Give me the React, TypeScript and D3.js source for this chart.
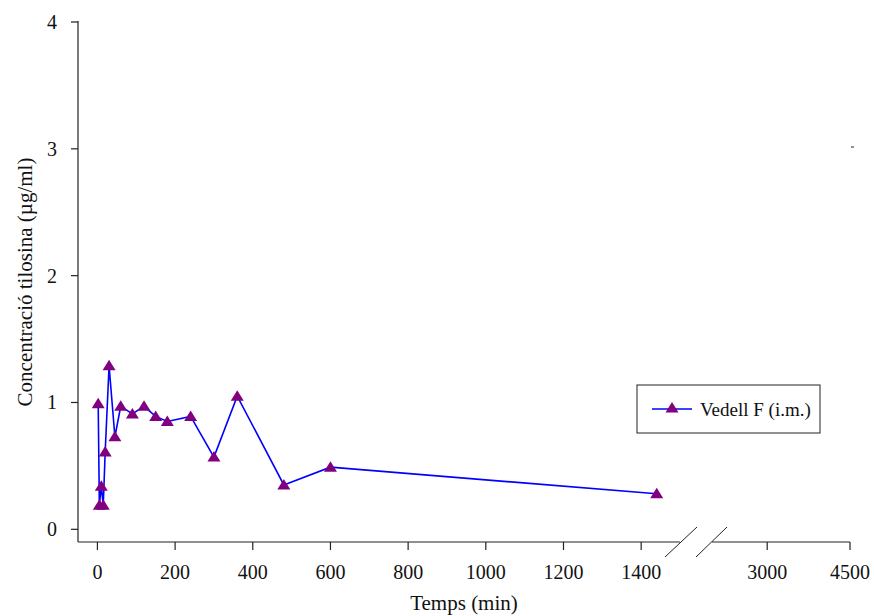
import React from "react";
import * as d3 from "d3";

const width = 874;
const height = 616;

// time (min) and tylosin concentration (µg/ml)
const times = [2, 5, 10, 15, 20, 30, 45, 60, 90, 120, 150, 180, 240, 300, 360, 480, 600, 1440];
const conc = [0.99, 0.19, 0.34, 0.19, 0.61, 1.29, 0.73, 0.97, 0.91, 0.97, 0.89, 0.85, 0.89, 0.57, 1.05, 0.35, 0.49, 0.28];

const xTicksLow = [0, 200, 400, 600, 800, 1000, 1200, 1400];
const xTicksHigh = [3000, 4500];
const yTicks = [0, 1, 2, 3, 4];
const seriesName = "Vedell F (i.m.)";

const font = "'Liberation Serif', 'Times New Roman', serif";

// broken x axis: two linear segments
const xLow = d3.scaleLinear().domain([-50, 1500]).range([78, 680]);
const xHigh = d3.scaleLinear().domain([2000, 4500]).range([712, 850]);
const y = d3.scaleLinear().domain([-0.1, 4]).range([542, 22]);

const xPos = (t: number) => (t <= 1500 ? xLow(t) : xHigh(t));

const tri = "M0,-6L6.5,4.5L-6.5,4.5Z";

export default function App() {
  const line = d3
    .line<number>()
    .x((d, i) => xPos(times[i]))
    .y((d) => y(d));

  const axisY = y.range()[0];
  const left = xLow.range()[0];

  return (
    <svg
      width={width}
      height={height}
      style={{ position: "absolute", left: 0, top: 0, background: "#fff" }}
      fontFamily={font}
    >
      {/* y axis */}
      <g stroke="#222" strokeWidth={1.2}>
        <line x1={left} x2={left} y1={y(4) - 1} y2={axisY} />
        {yTicks.map((t) => (
          <line key={t} x1={left - 7} x2={left} y1={y(t)} y2={y(t)} />
        ))}
      </g>
      {yTicks.map((t) => (
        <text key={t} x={57} y={y(t)} dy="0.35em" textAnchor="end" fontSize={20} fill="#111">
          {t}
        </text>
      ))}

      {/* x axis, with break */}
      <g stroke="#222" strokeWidth={1.2}>
        <line x1={left} x2={xLow.range()[1]} y1={axisY} y2={axisY} />
        <line x1={xHigh.range()[0]} x2={xHigh.range()[1]} y1={axisY} y2={axisY} />
        {xTicksLow.map((t) => (
          <line key={t} x1={xLow(t)} x2={xLow(t)} y1={axisY} y2={axisY + 8} />
        ))}
        {xTicksHigh.map((t) => (
          <line key={t} x1={xHigh(t)} x2={xHigh(t)} y1={axisY} y2={axisY + 8} />
        ))}
        <line x1={665} y1={557} x2={697} y2={527} strokeWidth={1} />
        <line x1={696} y1={557} x2={727} y2={527} strokeWidth={1} />
        <line x1={851} y1={147} x2={854} y2={147} strokeWidth={1} />
      </g>
      {xTicksLow.map((t) => (
        <text key={t} x={xLow(t)} y={579} textAnchor="middle" fontSize={20} fill="#111">
          {t}
        </text>
      ))}
      {xTicksHigh.map((t) => (
        <text key={t} x={xHigh(t)} y={579} textAnchor="middle" fontSize={20} fill="#111">
          {t}
        </text>
      ))}

      {/* titles */}
      <text x={464} y={610} textAnchor="middle" fontSize={21} fill="#111">
        Temps (min)
      </text>
      <text
        transform="translate(32,282) rotate(-90)"
        textAnchor="middle"
        fontSize={21}
        fill="#111"
      >
        Concentració tilosina (µg/ml)
      </text>

      {/* series */}
      <path d={line(conc) || ""} fill="none" stroke="#0000ff" strokeWidth={1.6} />
      {conc.map((c, i) => (
        <path
          key={i}
          d={tri}
          transform={`translate(${xPos(times[i])},${y(c)})`}
          fill="#800080"
        />
      ))}

      {/* legend */}
      <rect x={637} y={385} width={183} height={48} fill="#fff" stroke="#222" strokeWidth={1} />
      <line x1={652} x2={692} y1={409} y2={409} stroke="#0000ff" strokeWidth={1.6} />
      <path d={tri} transform="translate(672,408)" fill="#800080" />
      <text x={700} y={416} fontSize={19} fill="#111">
        {seriesName}
      </text>
    </svg>
  );
}
